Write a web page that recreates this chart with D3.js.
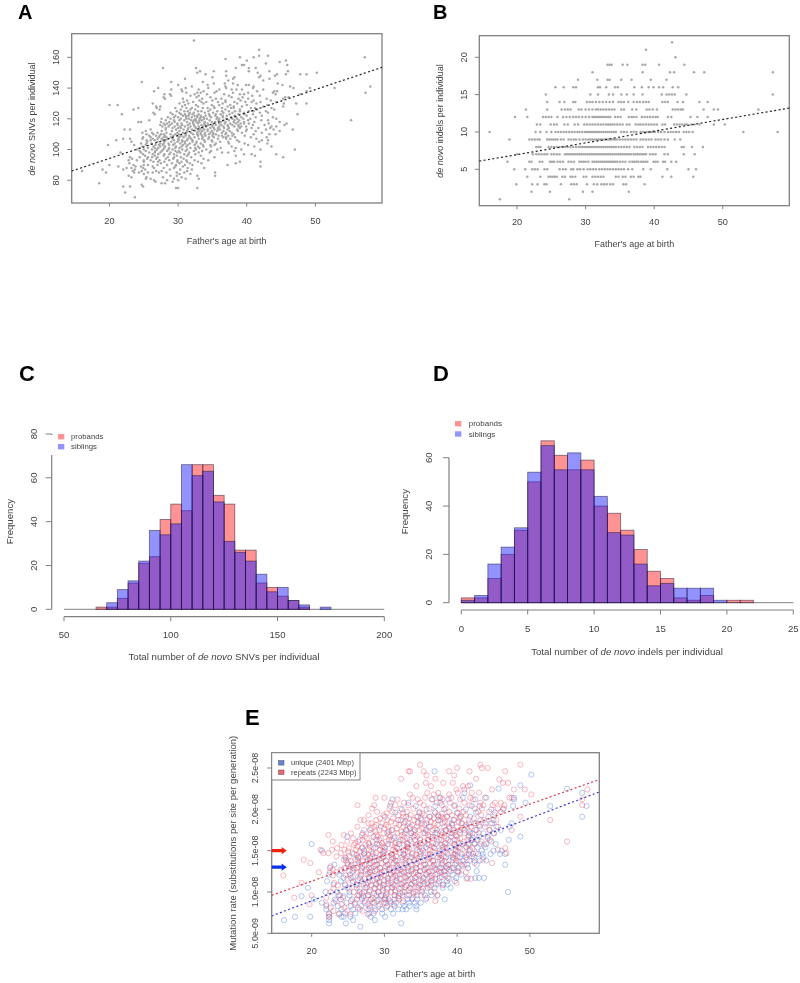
<!DOCTYPE html>
<html><head><meta charset="utf-8">
<script src="https://cdn.jsdelivr.net/npm/d3@7"></script>
<style>
html,body{margin:0;padding:0;background:#fff}
svg{display:block;filter:blur(0.4px)}
text{font-family:"Liberation Sans",Arial,sans-serif;fill:#444}
.pl{font-weight:bold;fill:#000}
</style></head><body>
<svg id="c" width="800" height="983"></svg>
<script>
// ---------- data ----------
const ageTicks=[20,30,40,50];
// each row: [y value, father's age ...]
const snvRows=[
[171,32.3],[165,41.8],[161,41.8,43.1],[160,39,41,57.2],[159,36.9],[158,40,45.7],[157,44.8],[156,42.8],[155,39.3,39.6,45.9],
[153,27.8,32.6,38.4,40.3,41.3],[151,33.2,35.2,37,40.3,43.3,46],[150,32.8,41.6,50.2],[149,34,44.4,45.7,47.8,48.7],[148,37,42,44.1],
[147,35,38.2,41.8],[146,31,38,43.3],[145,37.3,42.4],[144,24.7,29,33.6],[143,35.2,36.8,38,44.5],[142,30,34.3,38.7,39.9,40.3,45.2],
[141,32,36.9,41,46.3,58],[140,27.1,31.1,34.4,37,40.9,46.8,49.2,52.8],[139,29,30.5,33,36,37.8,38.5,39.3,42.4],
[138,26.5,30.6,33.7,35.6,41.5,44,44.4,48.7],[137,31.2,32.8,33.3,35.3,38,40.2,43.8,57.3],[136,28,28.8,32.4,34.2,36.7,39,39.6,44.2,47.8],
[135,29,31.8,33,37.4,40.8,41.9],[134,27.9,32.7,34.7,37.8,39.4,45.6,46.1],[133,28.1,30.7,33.5,35.5,36.3,38.8,40.2,42.9,45.3],
[132,31.3,33.1,35,36.9,39.1,41,43.5],[131,30.8,32.2,34.1,35.8,38.2,39.8,42,44.3],[130,26.3,30.2,31.5,33.7,36.5,38.6,41.4,45.4,47.2,48.7],
[129,20,21.2,31,32.6,34.9,36,37.6,40,43],[128,26.8,27.4,30.6,32.9,35.2,37.2,39.3,42.4,45.3],[127,24.2,26.9,29.6,31.2,33.6,34.3,36.4,38.1,40.6,43.6],
[126,23.5,27.3,30.4,31.8,32.5,34.7,36.9,39,41.5,44],[125,30.9,31.4,32.9,33.4,35.7,37.4,38.3,40.3,42.8],[124,26.4,28.9,30.2,31.7,32.3,33.9,35.1,36.6,37.9,39.6,41.9,43.1],
[123,21.8,26.6,29.2,31,32.1,33,34.5,36.2,38.8,40.9,47.4],[122,29.6,30.7,31.5,32.4,33.3,34,35.4,37.1,38.2,40,42.2],
[121,28.5,30,31.2,32,32.8,33.7,34.8,36.5,37.7,39.2,41.3,43.8],[120,27.6,28.9,31.6,32.5,33.2,34.2,35.6,37,38.6,40.5,44.3],
[119,25.8,28.2,29.4,30.9,31.9,32.6,33.5,34.6,35.9,37.4,38.9,42.1,43.1,55.2],[118,24.2,24.6,27.5,28.7,31.3,32.2,33.1,33.9,34.9,36.2,38.1,39.6,41.1,44.8],
[117,27.9,28.4,29.1,29.9,31.7,32.9,33.8,35.2,36.8,37.6,38.4,39.1,40.3,43.2,45.8],[116,27.4,28.1,28.8,30.6,32.3,33.4,34.4,35.5,36.3,37.9,38.8,42.6,45.5],
[115,27.7,28.6,29.5,31,31.8,33,34.1,35,36,37.3,38.2,39.9,43.6,44.3],[114,28.2,29.2,30.4,31.5,32.6,33.6,34.7,35.8,36.7,40.7,41.7,43.4],
[113,22.2,23,26,29.7,30.8,32,33.2,34.3,35.3,36.1,37.2,40,42.8,43.9,46.7],[112,25.3,30.2,31.3,32.5,33.5,34.9,35.7,37.5,38.7,41.3,44.8],
[111,24.8,27,28.3,29.9,30.7,31.9,32.8,33.9,35.1,36.4,37.8,39.3,42.2],[110,25.4,26.4,27.5,28.9,30.1,31.1,32.2,33.3,34.5,35.5,36.9,38.1,41,43.3,44.2],
[109,26.8,28.1,29.3,30.5,31.6,32.9,34,35.9,37.3,37.9,39.7],[108,26,27.2,27.9,29,30.8,32.4,33.6,35.2,36.6,38.3,40.6,42.9],
[107,22,23,26.3,27.6,28.5,30,31.4,33,34.4,37,37.6,41.4],[106,21,25.4,26.6,28.2,29.4,30.6,32.1,33.8,38.6,42.2,43.1],[105,23.2,27,29,29.9,31,32.7,35,36.1,38.9,41.8],
[104,24.6,26.1,27.4,28.6,30.3,31.7,33.3,37.4,39.7,43],[103,19.8,23.6,25.3,26.7,27.8,29.3,30.7,32.4,33.6,35.3,40.2],[102,26.4,28.1,29.7,31.2,32.9,34.8,37.8,41.1,43.6],
[101,24.4,25.6,27.1,28.7,30.2,31.8,33.1,36.2,38.4],[100,24,25,26.2,27.8,29.2,30.6,32.6,34.1,35.7,39.2,42,47],[99,25.3,26.7,28.4,29.6,31.1,32.3,33.5,38.2],
[98,21.6,25.8,27.4,28.9,30.3,31.6,33,34.6,36.4,37.3],[97,24.9,26.3,28,29.4,30.9,32.5,39.6,40.7,44.3],[96,25.2,26.6,27.9,29.8,31.3,33.3,38.4,41.2],
[95,23,24.4,27,28.5,30.4,31.9,35.3,45.3],[94,23.3,25.5,26.8,28.2,29.3,30.8,33.7],[93,22.8,24,26,27.3,28.7,31.2,32.4,34.4],[92,25,26.4,28,29.9,30.5,32.9,39,42],
[91,22.9,27.5,29.1,30.2,31.7,33.4,38.4],[90,20,23.5,25.6,27,28.4,31,32.1,37.2],[89,21.3,23.8,24.6,26.3,29.6,30.7,42],[88,22.5,23.2,24.9,27.9,31.4,33.8],
[87,19,22,23.7,25.2,28.8,30.3,32],[86,16,23.4,24.7,26.8,27.6,31.3],[85,19.5,24.3,25.6,27.2,28.3,29.8,30.9,35.4],[84,25,30.2,31.8],[83,22.8,28.9,29.8,32.8,35.4],
[82,23.2,25.4,27.8,30.5],[81,25.3,26,29.4,31.1,33],[80,26.5,28.4,30],[79,26.7,29.2],[78,18.5,27.6,28.1],[77,24.7],[76,22,23,24.9],[75,29.7,30,32.8],[72,22.3],[69,23.7],
// second reading of the dense middle
[131,33.4,36.9,40.7],[127,32,35.3,37.7,41.2],[125,29.8,34.4,36.4,39],[123,30.4,31.6,35.5,37.5,39.7],[122,31.1,32.8,34.6,36.5],[121,29.4,33.3,35.7,38.4],
[120,30.4,31.2,33.8,36,37.9,39.5],[119,30.2,32.3,33.1,36.6,38.2,40.2],[118,29.5,32.7,35.4,36.9,38.7],[117,30.5,32.2,34.3,36,39.6],[116,29.9,31.4,33.9,35,37.2,40.9],
[115,30.3,32.4,33.6,36.6,38.8],[114,30,33.1,35.2,37.4,39],[113,28.2,31.4,33.8,35.8,38.6],[112,27.6,29.1,33,34.3,36.6,39.9],[111,26.2,31.2,33.3,34.7,37],
[110,27.9,29.6,32.8,33.9,35.1],[109,25.8,27.3,30,31.1,33.5,35,36.4],[108,24.9,28.3,30.2,31.7,34.5,37],[107,24.8,27,29.2,31.9,33.5,35.8],[106,26,27.8,30.1,31.3,34.9],
[105,25.5,28,30.6,32.1,33.9,37.3],[104,25.4,27.9,29.5,31,32.6,35.5],[103,27.2,28.7,31.4,34.7],[102,24.8,27.4,30.5,33.7],[101,26.6,28,29.6,32.5],[100,26.9,28.6,31.3],
[99,24.4,27.6,30.1,34.8],[98,24.6,26.6,29.9],[97,27.1,28.7,31.5],[95,25.6,26.2,29.4],[93,25,29.9],[92,27.1,31.3],[90,29.7,25],[88,26.5,29.4],[85,26.3,23.6],[115,39.2],[125,41],[128,38.1]
];
const indelRows=[
[22,42.6],[21,38.8],[20,43.1],[19,33.2,33.5,33.8,35.4,36.1,38.3,38.7,40.7,44.4],[18,31,38.3,42.3,42.9,45.8,47.3,57.3],
[17,28.9,31.7,33.2,33.5,35.2,36.7,39.5,41.8],[16,25.6,26.8,28.2,28.6,31.8,32.1,33,34.3,34.7,37.1,38.2,39.2,39.9,40.7,41.3,42.7,43.5],
[15,24.2,30.7,31.8,33.4,34,35.2,36,37,38.3,41.1,41.8,42.2,42.6,43,44.7,57.3],
[14,24.4,26.2,26.9,28.2,28.5,30.2,30.6,31,31.5,32,32.5,33,33.5,34,34.8,35.2,35.6,36.2,37,37.5,37.9,38.4,38.8,39.2,41.2,41.6,42,43.4,44.2,46.6,47.8],
[13,21.3,24.4,26.5,27,27.4,27.8,29,29.4,30,30.5,31,31.5,31.8,32.2,32.6,33,33.4,33.8,34.2,35.2,35.6,36.8,37.4,38.9,39.3,39.8,40.4,42.7,43.1,43.5,43.9,44.2,47.2,48.7,49.3,55.2],
[12,19.7,21.5,23.8,24.2,24.6,25,25.9,26.7,27.2,27.7,28.2,28.6,29,29.5,30,30.5,31,31.2,31.5,31.8,32.1,32.4,32.7,33,33.3,33.6,34.3,34.7,35.1,36.3,36.7,37,37.4,38.2,38.6,39,39.4,39.8,40.2,40.5,42,42.5,45.3,46.3,47.8],
[11,22.9,23.4,24.9,25.4,25.8,26.9,27.4,28.4,28.9,29.8,30.2,30.6,31,31.4,31.8,32.2,32.6,33,33.3,33.6,33.9,34.2,34.6,35,35.4,36,36.4,37.3,37.7,38,38.4,38.8,39.2,39.6,40,40.4,41.2,41.6,42.9,43.3,43.7,44.1,44.5,44.8,45.4,45.9,46.6,48.7,50.3],
[10,16,22.7,23.4,24.3,25,25.6,26,26.4,26.8,27.2,27.6,28,28.4,28.8,29.1,29.5,29.9,30.2,30.5,30.8,31.1,31.4,31.7,32,32.3,32.6,32.9,33.2,33.5,33.8,34.1,34.4,35.2,35.6,36,36.6,37,37.4,38,38.3,38.6,38.9,39.2,39.5,39.8,40.1,40.6,41,41.5,42,42.4,42.8,43.2,43.6,44.3,44.7,45.1,45.6,53,58],
[9,18.9,21.8,22.2,22.6,23,23.3,24.4,24.7,25,25.3,25.6,25.9,26.4,26.8,27.5,27.9,28.3,28.6,29.1,29.6,30,30.4,30.7,31,31.3,31.6,31.9,32.2,32.5,32.8,33.1,33.4,33.7,34,34.3,34.6,35,35.4,35.8,36.2,36.6,37,37.4,38,38.4,38.8,39.2,39.6,40.2,40.6,41,41.5,42,43,43.8],
[8,22.8,23.1,23.4,24.6,25,25.4,25.8,26.2,26.6,27,27.4,27.8,28.2,28.6,29,29.3,29.6,29.9,30.2,30.5,30.8,31.1,31.4,31.7,32,32.3,32.6,32.9,33.2,33.5,33.8,34.1,34.4,34.8,35.2,35.6,36,36.4,37.1,37.5,37.9,38.3,39.1,39.5,39.9,40.3,40.7,41.1,41.5,44,44.3,45.5,47.1],
[7,20,22.3,22.8,23.2,23.6,24,24.4,25,25.4,25.8,26.2,27,27.3,27.6,27.9,28.2,28.5,28.8,29.1,29.4,29.7,30,30.3,30.6,30.9,31.2,31.5,31.8,32.1,32.4,32.7,33,33.3,33.6,33.9,34.2,34.5,34.8,35.1,35.4,35.7,36,36.3,36.6,37,37.3,37.6,37.9,38.2,38.5,38.8,39.4,39.8,40.2,41.5,42,44.3,45.9],
[6,18.6,21.8,22.1,23.3,23.7,24.8,25.1,25.4,25.9,26.3,26.7,27.5,27.9,28.3,29.1,29.4,29.7,30,30.4,31,31.3,31.6,31.9,32.2,32.5,32.8,33.1,33.4,33.7,34,34.3,34.6,35,35.4,35.8,36.4,36.8,37.1,37.4,37.7,38.1,38.4,38.7,39,39.9,40.2,40.5,41.3,41.6,42.5,43.2],
[5,19.6,21.2,22.2,22.6,23,24,24.4,26.2,26.7,27.1,27.9,28.2,28.8,29.2,29.7,30.3,30.7,31.1,31.5,32,32.4,32.8,33.2,33.6,34,34.4,34.8,35.2,35.6,36.2,36.8,38.4,39.5,41.9,45,46.1],
[4,21.5,23.4,24.6,24.9,25.2,25.5,25.8,26.6,27,27.8,28.1,28.5,29.7,30.1,31,31.4,31.8,32.2,32.6,34.4,34.8,35.4,35.8,36.6,37,37.7,38,41.2,42.5,45.7],
[3,19.9,22.2,23,24,24.3,26.4,27.9,28.3,28.7,30.2,31.2,31.7,32.3,32.7,33.1,33.6,34,35.5,35.9,38.6],
[2,22.1,24.8,29.6,31,36.3],[1,17.5,27.6]
];
const snvBins=[65,70,75,80,85,90,95,100,105,110,115,120,125,130,135,140,145,150,155,160,165,170];
const snvProbands=[1,1,5,12,21,24,41,48,45,66,66,52,48,27,27,12,10,6,4,1,0,0];
const snvSiblings=[0,3,9,13,22,36,34,39,66,61,63,49,31,26,22,16,8,10,4,2,0,1];
const indelBins=[0,1,2,3,4,5,6,7,8,9,10,11,12,13,14,15,16,17,18,19,20,21];
const indelProbands=[2,2,10,20,30,50,67,61,55,59,40,37,30,22,13,10,2,1,3,0,1,1];
const indelSiblings=[1,3,16,23,31,54,65,55,62,55,44,29,28,16,7,8,6,6,6,1,0,0];
const rateTicks=[0.5,1,1.5,2,2.5];
const rateTickLabels=["5.0e-09","1.0e-08","1.5e-08","2.0e-08","2.5e-08"];
// rows: [rate in 1e-8, father's age ...]
const uniqueRows=[
[2.46,36.9],[2.42,50.2],[2.29,41.8,48.7],[2.25,55.1,45.7],[2.2,57.2,41],[2.14,37.6,40.8,44,47.8],[2.12,31.1,36.6,38.8,42.5,47.8],[2.08,33.3,37.7,49.4],
[2.04,30.8,34.3,37,39.6,42,43.1,47.7,52.8,57.8],[2,32.4,35.8,38.2,41.2,44.7,46.3],[1.96,31.5,34.8,37,40,42.6,45.2],[1.91,30.1,33,36.2,38.6,41.8,44.3,57.2],
[1.87,31.9,35.1,37.4,39.5,43.2,45],[1.83,32.7,34.6,38,40.6,42.4,43.9,44.8,47.5],[1.79,29.5,33.5,36.1,38.9,41.4,43.1,45.4,47.2],[1.75,28,31,34.2,37.2,39.6,41,42.7,44.5,46],
[1.71,27,30.4,32.8,35.6,38,40.4,42.1,43.6,45.1],[1.67,24.9,28.5,31.4,34,36.7,39.2,41.6,43,44.2,48.7],[1.63,26.6,29.3,32.2,34.9,37.5,40,41.9,42.8,44.5,47.1],
[1.58,20,27.8,30.5,33.1,35.9,38.3,40.7,42.4,43.2,45.3],[1.54,28.8,31.7,34.4,36.8,39,41.3,42.8],[1.5,21.4,27.2,30,32.6,35.3,37.6,39.8,41.7,43.4,45,46.1],
[1.46,25.8,28.4,31.1,33.8,36.3,38.7,40.6,42.2,42.9,44.6,45.9,46.6],[1.42,24.6,27.5,29.8,32.4,35,37.4,39.4,41.2,43.6],[1.38,26.3,28.9,31.5,34.1,36.7,38.9,40.8,42.4,44],
[1.33,23.1,25.5,27.9,30.4,33,35.6,37.9,39.7,41.4,42.7,46.6],[1.29,22.5,24.7,26.9,29.4,31.9,34.4,36.9,38.6,40.2],[1.25,24.1,27.4,30,32.5,34.9,37.5,39.1,42.7],
[1.21,22.4,25.3,28.1,30.9,33.4,35.8,38.2,40.6],[1.17,24.4,26.6,29.1,31.7,34.2,36.5,38.7,41.4,42.5,43,43.7],[1.13,22.1,25.7,28,30.5,32.9,35.3,37.5,39.7],
[1.09,23,26.2,28.8,31.2,33.7,36,38.1,38.7],[1.05,19.5,24.9,27.4,29.8,32.3,34.7,36.9,39.1],[1,21.9,25.2,27.9,30.3,32.8,35.2,47],[.96,23.7,26.5,28.9,31.4,33.4,35.6,37.3],
[.95,18.6,24.4,27.1,29.5,32],[.91,20.3,23.2,25.6,28.2,30.1,30.6,33.2,34.5,38.3],[.87,21.4,24.8,27.3,29.9,31.6,32.5,33.4,35],[.83,22,23.6,26.8,29.2,31.4,32.7,34.4],
[.79,22,24.1,25.7,27.8,29.7,31.9,33,34.4],[.74,22.4,23.8,24.6,27.9,28.5],[.7,17.7,19.8,22.4,24.1,24.4,25.3,28.1,30.1],[.66,16.2,22.4,25.7,28.7],[.62,22.4,24.7,32.3],[.58,26.7],
// second reading of the dense middle
[1.71,33.7,37,39.3,41.8],[1.63,31,33.5,36,38.8,42.1],[1.58,29,32,34.6,37.1,39.6,41.6,44],[1.54,27,30,33.2,35.7,38,40.2,43.9],[1.46,27.2,29.8,32.6,35,37.5,39.7,41.6,43.5],
[1.42,26.4,28.7,31,33.7,36.2,38.5,40.4,42.3],[1.38,24.7,27.7,30.2,32.9,35.4,37.9,39.9,41.7,43.1],[1.33,26.7,29,31.7,34.3,36.8,38.8,40.6],[1.29,25.7,28.2,30.7,33.2,35.7,37.8,39.5,41.5],
[1.25,25.6,28.7,31.3,33.7,36.2,38.3,40.1],[1.21,23.8,26.7,29.5,32.1,34.6,37,39.4],[1.17,25.4,27.9,30.4,33,35.4,37.6,39.9],[1.13,24,26.9,29.3,31.7,34.1,36.4,38.6],
[1.09,24.6,27.5,30,32.4,34.9,37.1],[1.05,26.2,28.6,31,33.5,35.9,38],[1,23.5,26.6,29.1,31.5,34,36.4],[.96,25.2,27.7,30.2,32.5,34.5,36.5],[.91,24,26.9,29.2,31.4,33.8,35.7],
[.87,23,26,28.6,30.8,34.2],[.83,25.4,28,30.4,33.5],[.79,26.6,28.8,30.9,32.5],[.74,26,29.7,31.2],[1.75,33,35.7,38.4],[1.83,35.8,39.3,41.6],[1.91,34.6,37.4,40.4]
];
const repeatRows=[
[2.54,34.9,43.2,48.7],[2.5,40,43.4,44.2],[2.46,33.3,33.5,35.4,38.9,41.7,46.6],[2.41,35.8,39.6],[2.37,32.3,37,42.6],[2.36,45.8],[2.32,35.7,38.1,39.4,46.3,47],
[2.28,34.4,36.4,40.8,41.5],[2.24,44.8,47.8,49.3,57.9,39.9,41],[2.2,35.9,37.4,40.1,42,43],[2.18,50.2,33.5,36.8,38.9],[2.14,28.8,30,33.9,35.6,37.7,39.2,41.8,43.8,47.2,47.5],
[2.12,31.8,34.6,36.5,38,40.4,42.2,57.2],[2.08,30.9,32.7,34.9,37.2,39,41,43.2,45.2,46],[2.05,26.3,28.6,31.5,33.3,35.4,37.9,39.7,41.7,43.6,44.9,46.5,57.2],
[2.01,28.3,30.7,32.2,34,36.2,38.4,40.3,42.4,43.4,45.6,46.4],[1.97,29,31.1,33.1,34.8,36.9,38.9,40.9,42.9,44.4,46],[1.93,27.8,29.9,31.9,33.6,35.5,37.4,39.3,41.2,43.3,45.1],
[1.91,48.7,32.6,34.4,36.3,37.8,38.6,40.5],[1.87,26.7,27.2,28.9,30.4,32.3,34.1,35.9,37.7,39.6,41.6,43.7,45.4,52.8],[1.83,27.8,28.2,29.7,31.6,33.3,35.1,36.9,38.8,40.7,42.6,44.6],
[1.79,26.3,28.6,30.5,32.6,34.5,36.3,38.2,40,41.9,43.8,45.6],[1.75,27.2,29.3,31.1,33,34.8,36.7,38.5,40.4,42.5,44.4,47.5],[1.71,25.4,28.1,29.9,31.8,33.7,35.4,37.2,39.1,41,43,45],
[1.69,22.3,24.4,26.9,28.9,30.6,32.4,34.2,36,37.9,39.8,41.6],[1.65,25.7,27.6,29.5,31.3,33.1,34.9,36.6,38.5,40.4,42.2,44.2],[1.61,22.9,24.9,26.4,28.4,30.2,32,33.7,35.5,37.3,39.1,41,43.3,44.7,55.1],
[1.57,24.1,25.8,27.4,29.3,31,32.7,34.4,36.1,37.9,39.7,41.5,43.7],[1.53,23.5,25.1,26.9,28.5,30.1,31.8,33.4,35.2,36.9,38.6,40.4,42.1,46.6],[1.51,21.2,22.8,24.5,26.1,27.9,29.4,31.2,32.9,34.5,36.3,38,39.8,41.8,45.6],
[1.47,21.6,22.3,24,25.6,27.3,28.9,30.6,32.2,33.9,35.6,37.4,39.2,41,42.6,46.8],[1.43,23.4,25.1,26.7,28.3,29.9,31.6,33.2,34.8,36.6,38.2,40,42],[1.39,18.9,24.4,26,27.7,29.3,31,32.5,34.1,35.9,37.6,39.4,41.3,43.5],
[1.35,19.8,24.9,26.5,28.1,29.6,31.3,32.9,34.5,36.3,38,39.9,42.4,44.8],[1.31,22.6,25.4,27,28.6,30.2,31.8,33.3,35,36.7,38.5,40.7],[1.27,22.9,24,25.9,27.5,29,30.7,32.2,33.8,35.5,37.1,38.9],
[1.24,21,22.5,23.4,26.3,28,29.6,31.2,32.7,34.3,36,37.8,40.2,41.2],[1.2,16.1,22.9,24.7,26.8,28.4,30,31.5,33.2,34.8,36.5,38.4],[1.16,24.9,27.3,28.9,30.5,32.1,33.7,35.3,37,38.9,41.3,41.9],
[1.11,18.6,23.1,25.6,27.7,29.3,30.9,32.6,34.2,35.9,39.9],[1.08,23.6,24.6,26.1,28.2,29.8,31.4,33,34.7,36.4,38],[1.04,23,25.2,26.6,28.7,30.4,32,33.6,35.3],
[1,22.6,25.8,27.2,29.2,30.9,32.5,34.3,36.9],[.96,20,23.9,26.3,27.8,29.6,31.4,33.1,35,37.3],[.93,17.6,22,24.3,26.9,28.4,30.1,31.9,33.9,35.8],[.89,23.3,25.4,27.3,29,30.8,32.6,37],
[.85,19.7,22,24.1,25.9,27.7,29.4,31.3],[.81,22.6,24.5,26.4,28,30.2],[.77,23,24.9,27,28.7],[.73,22.4,23.7,25.3,27.7],[.7,22.4],
// second reading of the dense middle
[1.95,30.3,32.6,35.2,37.9,40.1],[1.89,29.4,31.2,33.4,35,36.8,38.2,40.3,42.3],[1.85,30.9,32.9,34.6,36.4,38.3,40.2],[1.81,28.9,30.2,32,33.8,35.5,37.3,39.3,41.2,43],
[1.77,28.2,30,31.7,33.5,35.2,37,38.9,40.8],[1.73,28.8,30.6,32.3,34,35.9,37.8,39.7,41.7],[1.67,27.3,29.1,30.8,32.7,34.5,36.3,38.2,40],[1.63,27,28.9,30.6,32.5,34.2,36,37.8,39.6,41.4],
[1.59,26,27.9,29.7,31.5,33.2,35,36.7,38.4,40.2,42.4],[1.55,26.3,28,29.7,31.4,33.1,34.8,36.5,38.2,39.9,41.2],[1.49,25,26.6,28.2,29.8,31.5,33.2,34.9,36.6,38.4,40.1],
[1.45,26.2,27.8,29.4,31,32.7,34.3,36,37.8,39.5,41.3],[1.41,24.7,26.4,28,29.6,31.2,32.9,34.5,36.1,37.8,39.6],[1.37,25.4,27,28.6,30.2,31.7,33.4,35,36.7,38.4,40.3],
[1.33,25,27.3,28.8,30.5,32.1,33.7,35.4,37.1,38.8,41],[1.29,24.5,26.2,27.9,29.4,31,32.6,34.3,35.9,37.6,39.3],[1.25,25.1,26.8,28.3,30,31.7,33.3,34.9,36.6,38.2,40],
[1.22,27.7,29.3,30.9,32.4,34,35.7,37.3],[1.18,25.7,27.9,29.5,31.2,32.8,34.4,36.2,37.9],[1.14,26.4,28.4,30,31.6,33.3,35,36.6],[1.1,27.1,28.9,30.5,32.2,33.8,35.5,37.4],
[1.06,27.6,29.4,31.1,32.8,34.5,36.2],[1.02,28,29.8,31.5,33.3,35.1],[.98,26.9,28.6,30.4,32.2,34],[.91,26.2,28.1,30,32],[.87,28.4,30.2]
];
const legendHist=["probands","siblings"];
const legendRate=["unique (2401 Mbp)","repeats (2243 Mbp)"];
const panelLabels=["A","B","C","D","E"];

// ---------- helpers ----------
const svg=d3.select("#c");
const flat=rows=>rows.flatMap(([y,...xs])=>xs.map(x=>[x,y]));
const AX="#808080";
function txt(x,y,s,opt={}){
  const t=svg.append("text").attr("x",x).attr("y",y).attr("font-size",opt.size||9).attr("text-anchor",opt.anchor||"middle").text(s);
  if(opt.rot) t.attr("transform",`rotate(-90 ${x} ${y})`);
  return t;
}
function richRot(x,y,parts,size,rot=true){
  const t=svg.append("text").attr("x",x).attr("y",y).attr("font-size",size).attr("text-anchor","middle");
  if(rot) t.attr("transform",`rotate(-90 ${x} ${y})`);
  parts.forEach(([s,it])=>t.append("tspan").attr("font-style",it?"italic":null).text(s));
}
function hline(x1,x2,y,w=1.2){svg.append("line").attr("x1",x1).attr("x2",x2).attr("y1",y).attr("y2",y).attr("stroke",AX).attr("stroke-width",w);}
function vline(x,y1,y2,w=1.2){svg.append("line").attr("x1",x).attr("x2",x).attr("y1",y1).attr("y2",y2).attr("stroke",AX).attr("stroke-width",w);}
function frame(x,y){
  const [x0,x1]=x.range(),[y0,y1]=y.range();
  svg.append("rect").attr("x",x0).attr("y",y1).attr("width",x1-x0).attr("height",y0-y1).attr("fill","#fff").attr("stroke",AX).attr("stroke-width",1.3);
}
function xTicks(x,y0,ticks,labY,size=9.2){
  ticks.forEach(t=>{vline(x(t),y0,y0+3.5,1);txt(x(t),labY,t,{size});});
}
function yTicks(y,x0,ticks,labels,labX,size=9.2){
  ticks.forEach((t,i)=>{hline(x0-4.5,x0,y(t),1);txt(labX,y(t),labels[i],{size,rot:true});});
}
function fitLine(x,y,a,b,color,dash="2,2.4",w=1.2){
  const d=x.domain();
  svg.append("path").attr("d",d3.line().x(p=>x(p[0])).y(p=>y(p[1]))([[d[0],a],[d[1],b]]))
   .attr("stroke",color).attr("stroke-width",w).attr("stroke-dasharray",dash).attr("fill","none");
}
function dots(data,x,y,g){
  svg.append("g").selectAll("circle").data(data).join("circle")
   .attr("cx",d=>x(d[0])).attr("cy",d=>y(d[1])).attr("r",1.25).attr("fill",g);
}

// ---------- panel A ----------
{
 const x=d3.scaleLinear().domain([14.5,59.7]).range([71.7,382]);
 const y=d3.scaleLinear().domain([65.2,175.4]).range([203,33.7]);
 frame(x,y);
 dots(flat(snvRows),x,y,"#a8a8a8");
 fitLine(x,y,86,153.5,"#222");
 xTicks(x,203,ageTicks,224);
 yTicks(y,71.7,[80,100,120,140,160],[80,100,120,140,160],58.7);
 txt(226.7,244.3,"Father's age at birth");
 richRot(35,119,[["de novo",1],[" SNVs per individual",0]],9);
}
// ---------- panel B ----------
{
 const x=d3.scaleLinear().domain([14.5,59.7]).range([479.3,789.3]);
 const y=d3.scaleLinear().domain([.125,22.89]).range([205.7,35.7]);
 frame(x,y);
 dots(flat(indelRows),x,y,"#a8a8a8");
 fitLine(x,y,6.1,13.2,"#222");
 xTicks(x,205.7,ageTicks,225);
 yTicks(y,479.3,[5,10,15,20],[5,10,15,20],466.7);
 txt(634.5,246.7,"Father's age at birth");
 richRot(443,121,[["de novo",1],[" indels per individual",0]],9);
}
// ---------- histograms ----------
function hist(o){
 const x=d3.scaleLinear().domain(o.xd).range(o.xr);
 const y=d3.scaleLinear().domain([0,o.ymax]).range(o.yr);
 const step=o.bins[1]-o.bins[0];
 hline(x(o.xd[0]),x(o.xd[1]),y(0),1);
 [[o.pro,"rgba(255,30,30,.48)"],[o.sib,"rgba(30,30,255,.48)"]].forEach(([vals,c])=>{
  svg.append("g").selectAll("rect").data(o.bins).join("rect")
   .attr("x",b=>x(b)).attr("width",b=>x(b+step)-x(b))
   .attr("y",(b,i)=>y(vals[i])).attr("height",(b,i)=>y(0)-y(vals[i]))
   .attr("fill",c).attr("stroke","rgba(20,10,40,.5)").attr("stroke-width",.9);
 });
 hline(x(o.xd[0]),x(o.xd[1]),o.axisY,1.2);
 o.xt.forEach(t=>{vline(x(t),o.axisY,o.axisY+4.5,1);txt(x(t),o.tickY,t,{size:o.fs});});
 vline(o.axisX,y(o.ymax),y(0),1.2);
 o.yt.forEach(t=>{hline(o.axisX-6,o.axisX,y(t),1);txt(o.labX,y(t),t,{size:o.fs,rot:true});});
 // legend
 if(o.white) svg.append("rect").attr("x",o.white[0]).attr("y",o.white[1]).attr("width",o.white[2]).attr("height",o.white[3]).attr("fill","#fff");
 ["rgba(255,30,30,.48)","rgba(30,30,255,.48)"].forEach((c,i)=>{
  svg.append("rect").attr("x",o.leg[0]).attr("y",o.leg[1]+i*o.leg[2]).attr("width",6.3).attr("height",5.4).attr("fill",c);
  txt(o.leg[3],o.leg[1]+5.3+i*o.leg[2],legendHist[i],{size:o.legFs,anchor:"start"});
 });
 txt(o.fq[0],o.fq[1],"Frequency",{size:9.6,rot:true});
 richRot(o.tt[0],o.tt[1],o.ttParts,9.7,false);
}
hist({xd:[50,200],xr:[64,384.3],ymax:80,yr:[609.3,434],bins:snvBins,pro:snvProbands,sib:snvSiblings,axisY:616.7,xt:[50,100,150,200],tickY:638,fs:9.6,
 axisX:51.7,yt:[0,20,40,60,80],labX:37,white:[50.5,435,70,20],leg:[58,434,10,71,0],legFs:7.8,fq:[13,521.7],tt:[224,660],ttParts:[["Total number of ",0],["de novo",1],[" SNVs per individual",0]]});
hist({xd:[0,25],xr:[461.3,793.3],ymax:60,yr:[602.7,457.7],bins:indelBins,pro:indelProbands,sib:indelSiblings,axisY:610,xt:[0,5,10,15,20,25],tickY:632,fs:9.6,
 axisX:449,yt:[0,20,40,60],labX:432,leg:[455,421,10.3,468.7,0],legFs:8,fq:[408,511.7],tt:[627,655],ttParts:[["Total number of ",0],["de novo",1],[" indels per individual",0]]});

// ---------- panel E ----------
{
 const x=d3.scaleLinear().domain([14.5,59.55]).range([271.7,599.3]);
 const y=d3.scaleLinear().domain([.5,2.685]).range([933.3,752.7]);
 frame(x,y);
 const draw=(d,c)=>svg.append("g").selectAll("circle").data(d).join("circle")
  .attr("cx",p=>x(p[0])).attr("cy",p=>y(p[1])).attr("r",2.6).attr("fill","none").attr("stroke",c).attr("stroke-width",.9);
 draw(flat(uniqueRows),"rgba(90,130,225,.5)");
 draw(flat(repeatRows),"rgba(240,70,90,.42)");
 fitLine(x,y,.71,2.21,"#3a3ac8");
 fitLine(x,y,.96,2.36,"#d8384a");
 xTicks(x,933.3,ageTicks,954);
 yTicks(y,271.7,rateTicks,rateTickLabels,258.3,9);
 txt(435.3,977,"Father's age at birth");
 txt(235.7,843.3,"Mutation rate (substitutions per site per generation)",{size:9.5,rot:true});
 // legend
 svg.append("rect").attr("x",271.7).attr("y",752.7).attr("width",88.3).attr("height",27.3).attr("fill","#fff").attr("stroke",AX).attr("stroke-width",1);
 ["rgba(60,100,210,.8)","rgba(235,60,80,.8)"].forEach((c,i)=>{
  svg.append("rect").attr("x",278.5).attr("y",760.5+i*9.5).attr("width",5.5).attr("height",4.6).attr("fill",c).attr("stroke","#555").attr("stroke-width",.5);
  txt(291,765+i*9.5,legendRate[i],{size:7.5,anchor:"start"});
 });
 // arrows marking the reference rates
 const arrow=(rate,color)=>{
  const x0=x.range()[0],ym=y(rate);
  svg.append("path").attr("d",d3.line()([[x0,ym-1.6],[x0+10,ym-1.6],[x0+10,ym-3.6],[x0+15,ym],[x0+10,ym+3.6],[x0+10,ym+1.6],[x0,ym+1.6]])+"Z").attr("fill",color);
 };
 arrow(1.5,"#f0240c");
 arrow(1.3,"#0b2ff0");
}
// ---------- panel letters ----------
[[18,18.5,20],[433,18.5,20],[19,381,22],[433,381,22],[245,725,22]].forEach((p,i)=>{
 svg.append("text").attr("class","pl").attr("x",p[0]).attr("y",p[1]).attr("font-size",p[2]).text(panelLabels[i]);
});
</script>
</body></html>
